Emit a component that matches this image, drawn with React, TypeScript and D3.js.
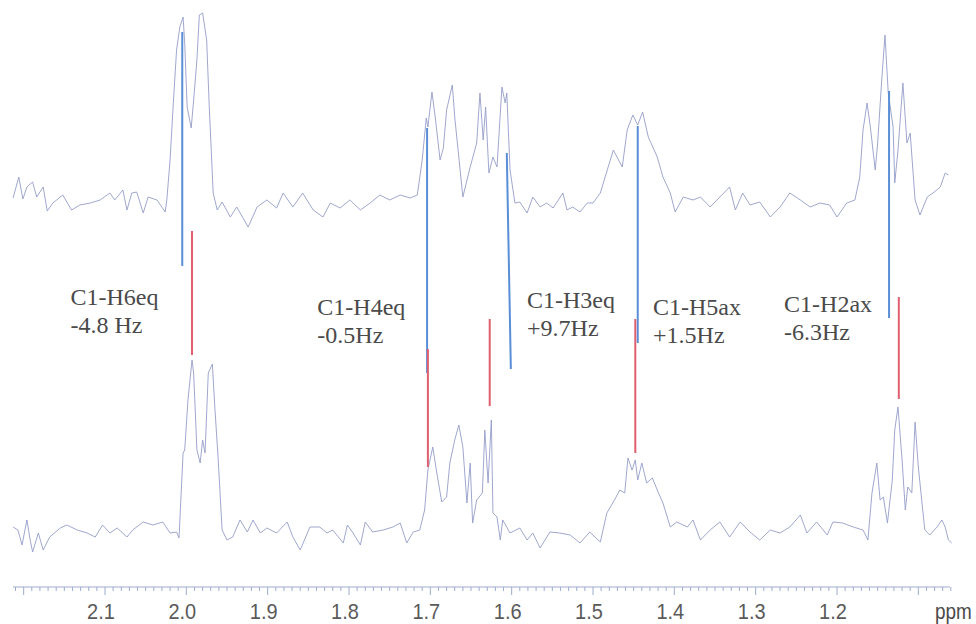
import React from "react";
import * as d3 from "d3";

// ---------- data ----------
const tickLabels = [2.1, 2.0, 1.9, 1.8, 1.7, 1.6, 1.5, 1.4, 1.3, 1.2];
const axisRange = [2.213, 1.061];

// upper spectrum (ppm, intensity a.u.)
const upperPpm = [
  2.213, 2.206, 2.201, 2.196, 2.189, 2.184, 2.176, 2.171, 2.164, 2.152, 2.141, 2.131, 2.118, 2.106, 2.094,
  2.088, 2.078, 2.073, 2.067, 2.061, 2.053, 2.047, 2.036, 2.026, 2.024, 2.02, 2.016, 2.012, 2.008, 2.004,
  2.002, 1.999, 1.994, 1.991, 1.987, 1.984, 1.98, 1.975, 1.972, 1.967, 1.962, 1.956, 1.946, 1.938, 1.924,
  1.913, 1.901, 1.889, 1.881, 1.869, 1.857, 1.844, 1.832, 1.823, 1.811, 1.799, 1.786, 1.774, 1.762, 1.75,
  1.737, 1.725, 1.716, 1.71, 1.705, 1.703, 1.698, 1.694, 1.688, 1.684, 1.68, 1.673, 1.67, 1.66, 1.651,
  1.643, 1.639, 1.635, 1.632, 1.628, 1.623, 1.618, 1.612, 1.608, 1.606, 1.602, 1.596, 1.59, 1.581, 1.574,
  1.565, 1.557, 1.549, 1.537, 1.532, 1.525, 1.516, 1.507, 1.5, 1.491, 1.475, 1.464, 1.458, 1.451, 1.445,
  1.439, 1.432, 1.421, 1.414, 1.405, 1.399, 1.389, 1.377, 1.368, 1.356, 1.344, 1.332, 1.325, 1.316, 1.307,
  1.295, 1.282, 1.27, 1.258, 1.245, 1.233, 1.221, 1.209, 1.2, 1.188, 1.178, 1.172, 1.168, 1.163, 1.159,
  1.153, 1.15, 1.145, 1.141, 1.137, 1.131, 1.129, 1.125, 1.119, 1.114, 1.11, 1.104, 1.098, 1.089, 1.082,
  1.073, 1.067, 1.063,
];
const upperIntensity = [
  5, 26, 4, 16, 21, 6, 16, -8, 0, 8, -7, -2, 0, 3, 10,
  3, 13, -7, 10, 11, -10, 6, 3, -9, 3, 43, 100, 153, 176, 186,
  160, 96, 75, 103, 143, 188, 190, 163, 100, 10, -7, 1, -14, -4, -24,
  -4, 3, -5, 10, -4, 10, -7, -14, 0, -5, 3, -7, 0, 8, 3,
  8, 5, 8, 43, 85, 76, 111, 86, 43, 55, 93, 118, 86, 6, 36,
  60, 110, 63, 96, 30, 46, 36, 116, 100, 110, 33, 0, 1, -10, 6,
  -4, 0, -5, 10, -7, -4, -9, 0, 0, 10, 53, 36, 73, 88, 78,
  91, 66, 46, 26, 10, -9, 6, 3, 6, -4, 6, 16, -7, 10, -2,
  1, -14, -4, 10, 3, -4, 0, -2, -14, 0, 3, 26, 73, 100, 76,
  33, 60, 123, 168, 110, 76, 20, 53, 120, 60, 70, 3, -12, 6, 10,
  16, 30, 28,
];

// lower spectrum (ppm, intensity a.u.)
const lowerPpm = [
  2.213, 2.207, 2.202, 2.196, 2.192, 2.189, 2.182, 2.176, 2.168, 2.155, 2.147, 2.134, 2.122, 2.112, 2.103,
  2.094, 2.085, 2.073, 2.066, 2.053, 2.041, 2.029, 2.02, 2.012, 2.009, 2.004, 2.002, 1.998, 1.993, 1.991,
  1.987, 1.983, 1.98, 1.977, 1.973, 1.968, 1.965, 1.961, 1.956, 1.95, 1.943, 1.934, 1.925, 1.918, 1.909,
  1.901, 1.889, 1.876, 1.869, 1.86, 1.848, 1.836, 1.827, 1.82, 1.807, 1.802, 1.795, 1.786, 1.78, 1.771,
  1.758, 1.746, 1.737, 1.729, 1.721, 1.713, 1.707, 1.703, 1.697, 1.692, 1.686, 1.68, 1.676, 1.67, 1.665,
  1.66, 1.655, 1.651, 1.648, 1.643, 1.636, 1.633, 1.629, 1.625, 1.623, 1.618, 1.614, 1.611, 1.602, 1.59,
  1.581, 1.574, 1.565, 1.553, 1.541, 1.528, 1.516, 1.504, 1.491, 1.483, 1.475, 1.467, 1.461, 1.457, 1.452,
  1.448, 1.445, 1.44, 1.434, 1.427, 1.421, 1.414, 1.405, 1.397, 1.384, 1.377, 1.368, 1.356, 1.344, 1.332,
  1.319, 1.307, 1.295, 1.282, 1.27, 1.258, 1.245, 1.237, 1.225, 1.212, 1.205, 1.193, 1.18, 1.168, 1.162,
  1.157, 1.151, 1.147, 1.143, 1.138, 1.132, 1.129, 1.125, 1.12, 1.116, 1.113, 1.108, 1.104, 1.1, 1.095,
  1.092, 1.086, 1.077, 1.071, 1.067, 1.063, 1.059,
];
const lowerIntensity = [
  3, 0, -15, 10, -10, -22, -3, -20, -7, 2, 5, 0, -3, -7, 5,
  -3, 2, -7, 0, 8, 5, 8, -3, -2, -8, 77, 80, 130, 170, 157,
  80, 67, 90, 77, 157, 166, 123, 73, 0, -10, -7, 10, -2, 10, -3,
  2, -3, 8, -7, -20, 3, 3, -3, 0, -13, 5, -3, -15, 8, -2,
  0, 3, 7, -13, -2, 0, 20, 60, 83, 57, 28, 33, 67, 90, 105,
  83, 27, 67, 7, 30, 37, 100, 47, 110, 17, 13, -10, 10, -3, 2,
  -10, -3, -18, -2, -3, -5, -13, -2, -12, 17, 28, 40, 37, 72, 60,
  70, 50, 67, 47, 52, 40, 27, 3, 8, 3, 10, -10, 0, 8, -7,
  8, -2, -10, 0, -3, 3, 15, -3, 8, -5, 8, 7, 3, 0, -10,
  37, 67, 30, 33, 7, 50, 100, 123, 70, 20, 43, 37, 108, 63, 23,
  0, -5, 3, 10, 3, -10, -13,
];

// stick markers: blue (upper spectrum units), red (lower spectrum units)
const blueTopPpm = [2.005, 1.704, 1.606, 1.445, 1.136];
const blueBottomPpm = [2.005, 1.704, 1.601, 1.445, 1.136];
const blueTop = [171, 75, 50, 77, 112];
const blueBottom = [-63, -170, -166, -140, -115];
const redPpm = [1.993, 1.703, 1.627, 1.448, 1.124];
const redTop = [299, 181, 211, 211, 233];
const redBottom = [175, 63, 124, 77, 131];

const labelNames = ["C1-H6eq", "C1-H4eq", "C1-H3eq", "C1-H5ax", "C1-H2ax"];
const labelCouplings = ["-4.8 Hz", "-0.5Hz", "+9.7Hz", "+1.5Hz", "-6.3Hz"];
const labelPpm = [2.1425, 1.8389, 1.5811, 1.4262, 1.2651];
const labelLevel = [-102, -112, -105, -112, -109];

export default function App() {
  const W = 976;
  const H = 624;
  const x = d3.scaleLinear().domain([2.1, 1.2]).range([105, 837]);
  const yUp = d3.scaleLinear().domain([0, 190]).range([203, 13]);
  const yLow = d3.scaleLinear().domain([0, 170]).range([530, 360]);

  const upperData = upperPpm.map((p, i) => [p, upperIntensity[i]] as [number, number]);
  const lowerData = lowerPpm.map((p, i) => [p, lowerIntensity[i]] as [number, number]);

  const lineUp = d3
    .line<[number, number]>()
    .x((d) => x(d[0]))
    .y((d) => yUp(d[1]));
  const lineLow = d3
    .line<[number, number]>()
    .x((d) => x(d[0]))
    .y((d) => yLow(d[1]));

  const axisY = 587;
  const minorTicks = d3.range(221, 105, -1).map((v) => v / 100);
  const traceColor = "#949dc8";
  const axisColor = "#9eabd0";
  const tickY = 619;

  return (
    <svg
      width={W}
      height={H}
      style={{ position: "absolute", left: 0, top: 0, background: "#fff" }}
    >
      {/* spectra */}
      <path d={lineUp(upperData) || ""} fill="none" stroke={traceColor} strokeWidth={0.9} />
      <path d={lineLow(lowerData) || ""} fill="none" stroke={traceColor} strokeWidth={0.9} />

      {/* blue sticks */}
      {blueTopPpm.map((p, i) => (
        <line
          key={"b" + i}
          x1={x(p)}
          x2={x(blueBottomPpm[i])}
          y1={yUp(blueTop[i])}
          y2={yUp(blueBottom[i])}
          stroke="#5a8ed6"
          strokeWidth={2}
        />
      ))}
      {/* red sticks */}
      {redPpm.map((p, i) => (
        <line
          key={"r" + i}
          x1={x(p)}
          x2={x(p)}
          y1={yLow(redTop[i])}
          y2={yLow(redBottom[i])}
          stroke="#e05f6e"
          strokeWidth={2}
        />
      ))}

      {/* labels */}
      {labelNames.map((n, i) => (
        <text
          key={"l" + i}
          x={x(labelPpm[i])}
          y={yUp(labelLevel[i])}
          fontFamily="'Liberation Serif', 'Times New Roman', serif"
          fontSize={24}
          fill="#4a4a4a"
        >
          <tspan x={x(labelPpm[i])}>{n}</tspan>
          <tspan x={x(labelPpm[i])} dy={28}>
            {labelCouplings[i]}
          </tspan>
        </text>
      ))}

      {/* axis */}
      <line
        x1={x(axisRange[0])}
        x2={x(axisRange[1])}
        y1={axisY}
        y2={axisY}
        stroke={axisColor}
        strokeWidth={1}
      />
      {minorTicks.map((t, i) => {
        const major = Math.abs(Math.round(t * 10) - t * 10) < 1e-6;
        return (
          <line
            key={"t" + i}
            x1={x(t)}
            x2={x(t)}
            y1={axisY}
            y2={axisY + (major ? 8 : 4)}
            stroke={axisColor}
            strokeWidth={1}
          />
        );
      })}
      {tickLabels.map((t) => (
        <text
          key={"tl" + t}
          textAnchor="middle"
          fontFamily="'Liberation Sans', Arial, sans-serif"
          fontSize={20}
          fill="#5a5a5a"
          transform={`translate(${x(t) - 4},${tickY}) scale(1,1.1)`}
        >
          {t.toFixed(1)}
        </text>
      ))}
      <text
        textAnchor="start"
        fontFamily="'Liberation Sans', Arial, sans-serif"
        fontSize={22}
        fill="#4a4a4a"
        transform={`translate(935,${tickY}) scale(0.86,1)`}
      >
        ppm
      </text>
    </svg>
  );
}
